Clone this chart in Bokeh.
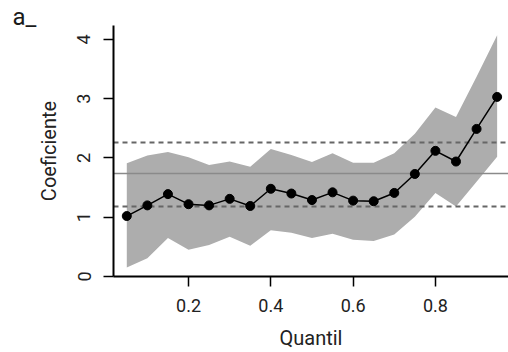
from bokeh.plotting import figure
from bokeh.models import FixedTicker, Range1d
from bokeh.embed import file_html
from bokeh.resources import INLINE

quantil = [0.05, 0.10, 0.15, 0.20, 0.25, 0.30, 0.35, 0.40, 0.45, 0.50,
           0.55, 0.60, 0.65, 0.70, 0.75, 0.80, 0.85, 0.90, 0.95]
coeficiente = [1.02, 1.20, 1.39, 1.22, 1.20, 1.31, 1.19, 1.48, 1.40, 1.29,
               1.42, 1.28, 1.27, 1.41, 1.73, 2.12, 1.94, 2.49, 3.03]
banda_sup = [1.91, 2.04, 2.10, 2.01, 1.88, 1.94, 1.85, 2.15, 2.05, 1.93,
             2.08, 1.92, 1.92, 2.08, 2.41, 2.85, 2.69, 3.37, 4.07]
banda_inf = [0.15, 0.31, 0.65, 0.45, 0.53, 0.67, 0.52, 0.78, 0.74, 0.65,
             0.72, 0.62, 0.60, 0.71, 1.01, 1.41, 1.18, 1.60, 2.02]
mqo_coef = [1.73]
mqo_ic = [1.18, 2.26]
x_ticks = [0.2, 0.4, 0.6, 0.8]
y_ticks = [0, 1, 2, 3, 4]

FONT = "Roboto"
TXT = "#222222"

p = figure(width=508, height=352, output_backend="svg", toolbar_location=None,
           x_range=Range1d(0.0177, 0.9776), y_range=Range1d(0, 4.235),
           min_border_left=113, min_border_right=0, min_border_top=25,
           min_border_bottom=75, background_fill_color="white",
           border_fill_color="white", title="a_")
p.outline_line_color = None
p.xgrid.visible = False
p.ygrid.visible = False

p.title.align = "left"
p.title.offset = -101
p.title.standoff = -11
p.title.text_font = FONT
p.title.text_font_size = "24px"
p.title.text_font_style = "normal"
p.title.text_color = "#1a1a1a"

p.varea(x=quantil, y1=banda_inf, y2=banda_sup, fill_color="#adadad")
p.hspan(y=mqo_coef, line_color="#8a8a8a", line_width=1.3)
p.hspan(y=mqo_ic, line_color="#666666", line_width=1.8, line_dash="5 4")
p.line(quantil, coeficiente, line_color="black", line_width=1.5)
p.scatter(quantil, coeficiente, size=9, color="black")

for ax in (p.xaxis[0], p.yaxis[0]):
    ax.axis_line_width = 2
    ax.axis_line_color = "black"
    ax.major_tick_line_width = 1.5
    ax.major_tick_line_color = "black"
    ax.major_tick_out = 10
    ax.major_tick_in = 0
    ax.minor_tick_line_color = None
    ax.major_label_text_font = FONT
    ax.major_label_text_font_size = "18px"
    ax.major_label_text_color = TXT
    ax.axis_label_text_font = FONT
    ax.axis_label_text_font_size = "20px"
    ax.axis_label_text_font_style = "normal"
    ax.axis_label_text_color = TXT

p.xaxis.ticker = FixedTicker(ticks=x_ticks)
p.yaxis.ticker = FixedTicker(ticks=y_ticks)
p.xaxis.axis_label = "Quantil"
p.yaxis.axis_label = "Coeficiente"
p.xaxis.major_label_standoff = 12
p.xaxis.axis_label_standoff = 11
p.yaxis.major_label_standoff = 13
p.yaxis.axis_label_standoff = 14
p.yaxis.major_label_orientation = "vertical"

open("out.html", "w").write(file_html(p, INLINE))
